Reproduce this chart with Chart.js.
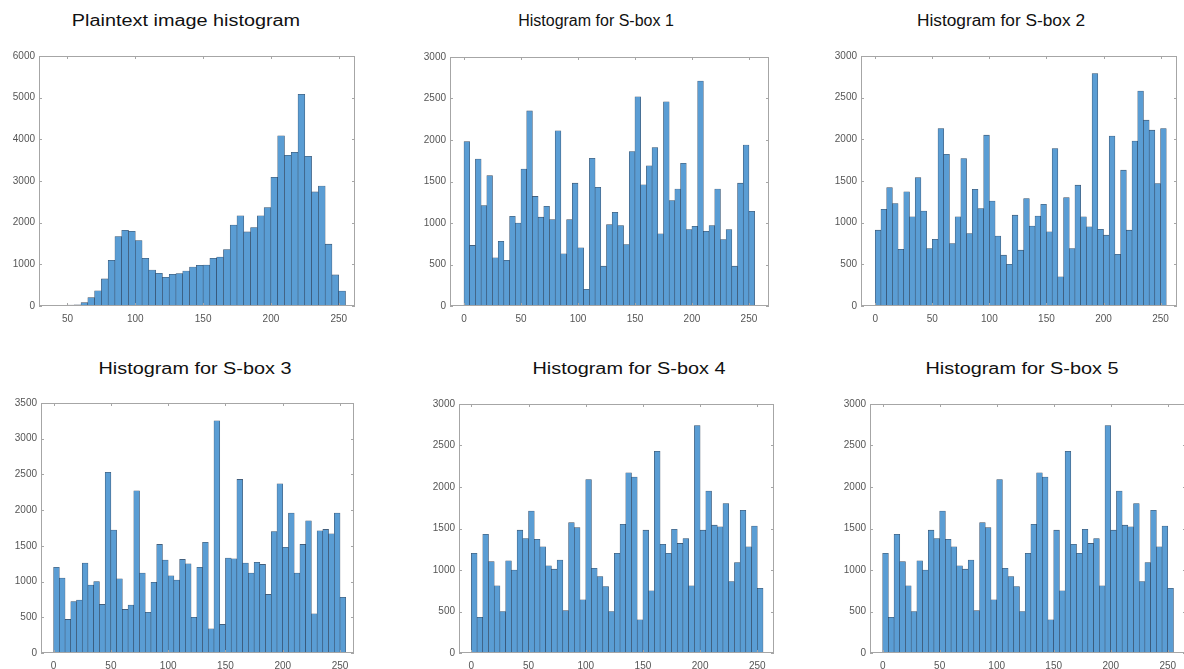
<!DOCTYPE html>
<html>
<head>
<meta charset="utf-8">
<title>Histograms</title>
<script src="https://cdn.jsdelivr.net/npm/chart.js@4.4.1/dist/chart.umd.min.js"></script>
<style>
  html, body { margin: 0; padding: 0; background: #ffffff; overflow: hidden; }
  body { position: relative; width: 1184px; height: 669px; }
  canvas { position: absolute; }
  .ttl {
    position: absolute; width: 300px; text-align: center;
    font-family: "Liberation Sans", Arial, sans-serif; font-size: 16px; line-height: 16px;
    color: #111111; white-space: nowrap; transform-origin: 50% 50%;
  }
</style>
</head>
<body>
<script>
// ---- data: bin lower edges (width 5) and counts per bin ----
const BIN_WIDTH = 5;

const plainBinStarts = [50, 55, 60, 65, 70, 75, 80, 85, 90, 95, 100, 105, 110, 115, 120, 125, 130,
  135, 140, 145, 150, 155, 160, 165, 170, 175, 180, 185, 190, 195, 200, 205, 210, 215, 220, 225,
  230, 235, 240, 245, 250];
const plainCounts = [20, 30, 80, 200, 365, 650, 1095, 1667, 1817, 1794, 1571, 1143, 865, 786, 690,
  762, 778, 841, 937, 976, 984, 1143, 1175, 1357, 1944, 2167, 1778, 1881, 2167, 2365, 3087, 4087,
  3619, 3690, 5079, 3595, 2738, 2881, 1484, 746, 357];

const sboxBinStarts = [0, 5, 10, 15, 20, 25, 30, 35, 40, 45, 50, 55, 60, 65, 70, 75, 80, 85, 90, 95,
  100, 105, 110, 115, 120, 125, 130, 135, 140, 145, 150, 155, 160, 165, 170, 175, 180, 185, 190,
  195, 200, 205, 210, 215, 220, 225, 230, 235, 240, 245, 250];

const sbox1Counts = [1980, 730, 1770, 1210, 1570, 580, 780, 550, 1080, 1000, 1650, 2350, 1320, 1070,
  1200, 1040, 2110, 630, 1040, 1480, 700, 200, 1780, 1430, 480, 980, 1130, 970, 740, 1860, 2520,
  1460, 1690, 1910, 870, 2460, 1270, 1410, 1720, 920, 960, 2710, 900, 970, 1410, 800, 920, 480,
  1480, 1940, 1140];
const sbox2Counts = [910, 1160, 1420, 1230, 680, 1370, 1070, 1540, 1140, 690, 800, 2130, 1820, 750,
  1070, 1770, 870, 1400, 1170, 2050, 1260, 840, 610, 500, 1090, 670, 1290, 960, 1080, 1220, 890,
  1890, 350, 1300, 690, 1450, 1070, 950, 2790, 920, 850, 2040, 620, 1630, 910, 1980, 2580, 2230,
  2110, 1470, 2130];
const sbox3Counts = [1200, 1050, 470, 720, 740, 1260, 950, 1000, 680, 2530, 1720, 1040, 610, 670,
  2270, 1120, 570, 990, 1520, 1300, 1080, 1020, 1310, 1250, 500, 1200, 1550, 340, 3250, 400, 1330,
  1320, 2430, 1260, 1120, 1270, 1240, 820, 1700, 2370, 1480, 1960, 1120, 1520, 1850, 550, 1710,
  1730, 1670, 1960, 780];
const sbox4Counts = [1200, 430, 1430, 1100, 810, 500, 1110, 1000, 1480, 1380, 1710, 1370, 1280, 1050,
  1010, 1120, 510, 1570, 1510, 640, 2090, 1020, 920, 800, 500, 1200, 1550, 2170, 2120, 400, 1480,
  750, 2430, 1310, 1200, 1490, 1320, 1380, 810, 2740, 1480, 1950, 1540, 1520, 1800, 860, 1090,
  1720, 1280, 1530, 780];
const sbox5Counts = [1200, 430, 1430, 1100, 810, 500, 1110, 1000, 1480, 1380, 1710, 1370, 1280, 1050,
  1010, 1120, 510, 1570, 1510, 640, 2090, 1020, 920, 800, 500, 1200, 1550, 2170, 2120, 400, 1480,
  750, 2430, 1310, 1200, 1490, 1320, 1380, 810, 2740, 1480, 1950, 1540, 1520, 1800, 860, 1090,
  1720, 1280, 1530, 780];

// ---- tick labels ----
const plainXTicks = [50, 100, 150, 200, 250];
const sboxXTicks = [0, 50, 100, 150, 200, 250];
const plainYTicks = [0, 1000, 2000, 3000, 4000, 5000, 6000];
const yTicks3000 = [0, 500, 1000, 1500, 2000, 2500, 3000];
const yTicks3500 = [0, 500, 1000, 1500, 2000, 2500, 3000, 3500];

// ---- panel titles ----
const titles = ['Plaintext image histogram', 'Histogram for S-box 1', 'Histogram for S-box 2',
  'Histogram for S-box 3', 'Histogram for S-box 4', 'Histogram for S-box 5'];

// ---- layout & style ----
const AX_W = 40, AX_H = 22, PAD_T = 8, PAD_R = 10, TICK_LEN = 3;
const BAR_FILL = 'rgb(90,157,212)';
const BAR_EDGE = 'rgba(25,45,70,0.85)';
const FRAME_COLOR = '#a6a6a6';
const LABEL_COLOR = '#555555';

const panels = [
  { title: 0, cx: 186, ty: 13, sx: 1.24, box: [39, 54, 355, 306], xr: [29, 262], yMax: 6000, xt: plainXTicks, yt: plainYTicks, starts: plainBinStarts, counts: plainCounts },
  { title: 1, cx: 596, ty: 13, sx: 1.0, box: [450, 55, 769, 306], xr: [-12.3, 267.6], yMax: 3000, xt: sboxXTicks, yt: yTicks3000, starts: sboxBinStarts, counts: sbox1Counts },
  { title: 2, cx: 1001, ty: 13, sx: 1.08, box: [861, 54, 1177, 306], xr: [-12.5, 264.4], yMax: 3000, xt: sboxXTicks, yt: yTicks3000, starts: sboxBinStarts, counts: sbox2Counts },
  { title: 3, cx: 195, ty: 361, sx: 1.24, box: [41, 401, 354, 653], xr: [-11, 262.2], yMax: 3500, xt: sboxXTicks, yt: yTicks3500, starts: sboxBinStarts, counts: sbox3Counts },
  { title: 4, cx: 629, ty: 361, sx: 1.24, box: [459, 402, 774, 653], xr: [-10.8, 264.6], yMax: 3000, xt: sboxXTicks, yt: yTicks3000, starts: sboxBinStarts, counts: sbox4Counts },
  { title: 5, cx: 1022, ty: 361, sx: 1.24, box: [870, 402, 1186, 653], xr: [-11.1, 266], yMax: 3000, xt: sboxXTicks, yt: yTicks3000, starts: sboxBinStarts, counts: sbox5Counts }
];

// frame around the axes with short inward tick marks on all four sides
const boxFrame = {
  id: 'boxFrame',
  afterDatasetsDraw(chart) {
    const { ctx, chartArea: a, scales: { x, y } } = chart;
    ctx.save();
    ctx.strokeStyle = FRAME_COLOR;
    ctx.lineWidth = 1;
    ctx.beginPath();
    x.ticks.forEach(t => {
      const px = Math.round(x.getPixelForValue(t.value)) + 0.5;
      ctx.moveTo(px, a.bottom); ctx.lineTo(px, a.bottom - TICK_LEN);
      ctx.moveTo(px, a.top); ctx.lineTo(px, a.top + TICK_LEN);
    });
    y.ticks.forEach(t => {
      const py = Math.round(y.getPixelForValue(t.value)) + 0.5;
      ctx.moveTo(a.left, py); ctx.lineTo(a.left + TICK_LEN, py);
      ctx.moveTo(a.right, py); ctx.lineTo(a.right - TICK_LEN, py);
    });
    ctx.stroke();
    ctx.strokeRect(a.left + 0.5, a.top + 0.5, a.right - a.left - 1, a.bottom - a.top - 1);
    ctx.restore();
  }
};

const plainNumber = v => String(v);

panels.forEach(p => {
  const [l, t, r, b] = p.box;
  const w = (r - l) + AX_W + PAD_R;
  const h = (b - t) + PAD_T + AX_H;
  const cv = document.createElement('canvas');
  cv.width = w; cv.height = h;
  cv.style.left = (l - AX_W) + 'px';
  cv.style.top = (t - PAD_T) + 'px';
  cv.style.width = w + 'px';
  cv.style.height = h + 'px';
  document.body.appendChild(cv);

  const ttl = document.createElement('div');
  ttl.className = 'ttl';
  ttl.textContent = titles[p.title];
  ttl.style.left = (p.cx - 150) + 'px';
  ttl.style.top = p.ty + 'px';
  ttl.style.transform = 'scaleX(' + p.sx + ')';
  document.body.appendChild(ttl);

  const points = p.starts.map((s, i) => ({ x: s + BIN_WIDTH / 2, y: p.counts[i] }));

  new Chart(cv, {
    type: 'bar',
    data: {
      datasets: [{
        data: points,
        backgroundColor: BAR_FILL,
        borderColor: BAR_EDGE,
        borderWidth: 0.55,
        borderSkipped: false,
        barPercentage: 1,
        categoryPercentage: 1,
        grouped: false
      }]
    },
    options: {
      responsive: false,
      devicePixelRatio: 1,
      animation: false,
      events: [],
      layout: { padding: { top: PAD_T, right: PAD_R, left: 0, bottom: 0 } },
      plugins: { legend: { display: false }, tooltip: { enabled: false }, title: { display: false } },
      scales: {
        x: {
          type: 'linear',
          min: p.xr[0], max: p.xr[1],
          offset: false,
          afterBuildTicks: s => { s.ticks = p.xt.map(v => ({ value: v })); },
          afterFit: s => { s.height = AX_H; },
          grid: { display: false, drawTicks: false },
          border: { display: false },
          ticks: {
            autoSkip: false, maxRotation: 0, padding: 7,
            color: LABEL_COLOR,
            callback: plainNumber,
            font: { family: 'Liberation Sans', size: 10 }
          }
        },
        y: {
          min: 0, max: p.yMax,
          afterBuildTicks: s => { s.ticks = p.yt.map(v => ({ value: v })); },
          afterFit: s => { s.width = AX_W; },
          grid: { display: false, drawTicks: false },
          border: { display: false },
          ticks: {
            autoSkip: false, padding: 4,
            color: LABEL_COLOR,
            callback: plainNumber,
            font: { family: 'Liberation Sans', size: 10 }
          }
        }
      }
    },
    plugins: [boxFrame]
  });
});
</script>
</body>
</html>
